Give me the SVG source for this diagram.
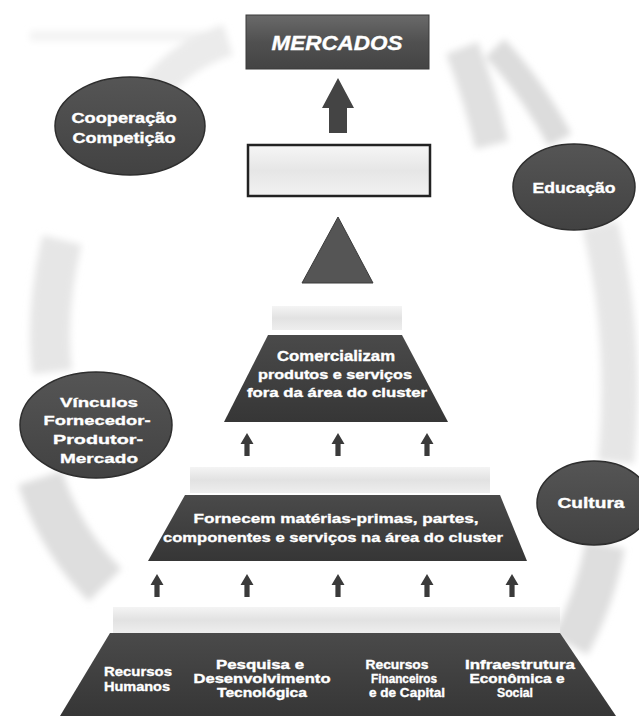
<svg xmlns="http://www.w3.org/2000/svg" xmlns:xlink="http://www.w3.org/1999/xlink" width="639" height="716" viewBox="0 0 639 716">
<defs>
<style>
.lbl{font-family:"Liberation Sans","DejaVu Sans",Arial,sans-serif;font-weight:bold;fill:#ffffff;text-anchor:middle;stroke:#ffffff;stroke-width:0.35}
.dark{fill:url(#darkGrad)}
.ell{fill:url(#ellGrad);stroke:#2e2e2e;stroke-width:1.5}
.band{fill:url(#bandGrad)}
.sw{fill:none;stroke:#e2e2e2;stroke-linecap:butt}
.arr{fill:#3a3a3a}
</style>
<filter id="soft" x="-20%" y="-20%" width="140%" height="140%">
<feGaussianBlur stdDeviation="3.5"/>
</filter>
<linearGradient id="darkGrad" x1="0" y1="0" x2="0" y2="1">
<stop offset="0" stop-color="#4a4a4a"/>
<stop offset="1" stop-color="#363636"/>
</linearGradient>
<linearGradient id="ellGrad" x1="0" y1="0" x2="0" y2="1">
<stop offset="0" stop-color="#555555"/>
<stop offset="1" stop-color="#424242"/>
</linearGradient>
<linearGradient id="mercGrad" x1="0" y1="0" x2="0" y2="1">
<stop offset="0" stop-color="#6a6a6a"/>
<stop offset="0.5" stop-color="#505050"/>
<stop offset="1" stop-color="#444444"/>
</linearGradient>
<linearGradient id="bandGrad" x1="0" y1="0" x2="0" y2="1">
<stop offset="0" stop-color="#f4f4f4"/>
<stop offset="0.5" stop-color="#e2e2e2"/>
<stop offset="1" stop-color="#eeeeee"/>
</linearGradient>
<linearGradient id="boxGrad" x1="0" y1="0" x2="0" y2="1">
<stop offset="0" stop-color="#f6f6f6"/>
<stop offset="0.5" stop-color="#e6e6e6"/>
<stop offset="1" stop-color="#f2f2f2"/>
</linearGradient>
<path id="sa" d="M0,0 L6.5,11 L2.6,11 L2.6,23 L-2.6,23 L-2.6,11 L-6.5,11 Z"/>
</defs>
<rect x="0" y="0" width="639" height="716" fill="#ffffff"/>

<g id="cycle" filter="url(#soft)">
<path class="sw" d="M30,36 L205,36" stroke-width="10" style="stroke:#f3f3f3"/>
<path class="sw" d="M150,95 Q180,55 228,40" stroke-width="32" style="stroke:#ebebeb"/>
<path class="sw" d="M462,48 Q480,95 492,145" stroke-width="34" style="stroke:#e0e0e0"/>
<path class="sw" d="M495,48 Q530,85 560,140" stroke-width="26" style="stroke:#dcdcdc"/>
<path class="sw" d="M600,225 Q628,340 616,462" stroke-width="36" style="stroke:#e6e6e6"/>
<path class="sw" d="M605,545 Q595,600 570,645" stroke-width="40" style="stroke:#dedede"/>
<path class="sw" d="M62,240 Q45,310 52,372" stroke-width="40" style="stroke:#e6e6e6"/>
<path class="sw" d="M40,478 Q60,540 105,585" stroke-width="46" style="stroke:#dedede"/>
</g>

<g id="connectors">
<path class="arr" d="M338,78 L354,108 L347,108 L347,133 L329,133 L329,108 L322,108 Z" style="fill:#444"/>
<use href="#sa" class="arr" x="247" y="433"/>
<use href="#sa" class="arr" x="338" y="433"/>
<use href="#sa" class="arr" x="427" y="433"/>
<use href="#sa" class="arr" x="157" y="574"/>
<use href="#sa" class="arr" x="247" y="574"/>
<use href="#sa" class="arr" x="338" y="574"/>
<use href="#sa" class="arr" x="427" y="574"/>
<use href="#sa" class="arr" x="512" y="574"/>
</g>

<g id="mercados">
<rect x="246" y="15" width="183" height="54" fill="url(#mercGrad)" stroke="#3a3a3a" stroke-width="1"/>
<text class="lbl" x="337" y="50" font-size="20" font-style="italic" textLength="131" lengthAdjust="spacingAndGlyphs">MERCADOS</text>
</g>

<g id="box">
<rect x="248" y="145" width="182" height="51" fill="url(#boxGrad)" stroke="#222" stroke-width="2.5"/>
</g>

<g id="apex">
<polygon points="338,217 373,283 302,283" fill="#555555" stroke="#3a3a3a" stroke-width="1"/>
</g>

<g id="band1"><rect class="band" x="272" y="306" width="130" height="24"/></g>

<g id="comercializam">
<polygon class="dark" points="268,335 402,335 448,422 224,422"/>
<text class="lbl" x="336" y="361" font-size="14" textLength="118" lengthAdjust="spacingAndGlyphs">Comercializam</text>
<text class="lbl" x="335" y="379" font-size="12" textLength="154" lengthAdjust="spacingAndGlyphs">produtos e serviços</text>
<text class="lbl" x="337" y="397" font-size="12" textLength="180" lengthAdjust="spacingAndGlyphs">fora da área do cluster</text>
</g>

<g id="band2"><rect class="band" x="190" y="467" width="300" height="26"/></g>

<g id="fornecem">
<polygon class="dark" points="185,495 500,495 527,561 148,561"/>
<text class="lbl" x="336" y="523" font-size="13.5" textLength="285" lengthAdjust="spacingAndGlyphs">Fornecem matérias-primas, partes,</text>
<text class="lbl" x="333" y="542" font-size="13.5" textLength="340" lengthAdjust="spacingAndGlyphs">componentes e serviços na área do cluster</text>
</g>

<g id="band3"><rect class="band" x="113" y="607" width="447" height="26"/></g>

<g id="base">
<polygon class="dark" points="110,633 560,633 616,716 60,716"/>
<text class="lbl" x="138" y="676" font-size="12.5" textLength="68" lengthAdjust="spacingAndGlyphs">Recursos</text>
<text class="lbl" x="137" y="691" font-size="12.5" textLength="66" lengthAdjust="spacingAndGlyphs">Humanos</text>
<text class="lbl" x="260" y="669" font-size="12" textLength="88" lengthAdjust="spacingAndGlyphs">Pesquisa e</text>
<text class="lbl" x="262" y="683" font-size="12" textLength="137" lengthAdjust="spacingAndGlyphs">Desenvolvimento</text>
<text class="lbl" x="262" y="697" font-size="12" textLength="90" lengthAdjust="spacingAndGlyphs">Tecnológica</text>
<text class="lbl" x="397" y="669" font-size="12" textLength="63" lengthAdjust="spacingAndGlyphs">Recursos</text>
<text class="lbl" x="404" y="683" font-size="12" textLength="66" lengthAdjust="spacingAndGlyphs">Financeiros</text>
<text class="lbl" x="407" y="697" font-size="12" textLength="76" lengthAdjust="spacingAndGlyphs">e de Capital</text>
<text class="lbl" x="520" y="669" font-size="12" textLength="110" lengthAdjust="spacingAndGlyphs">Infraestrutura</text>
<text class="lbl" x="517" y="683" font-size="12" textLength="95" lengthAdjust="spacingAndGlyphs">Econômica e</text>
<text class="lbl" x="515" y="697" font-size="12" textLength="36" lengthAdjust="spacingAndGlyphs">Social</text>
</g>

<g id="cooperacao">
<ellipse class="ell" cx="130" cy="126" rx="75" ry="49"/>
<text class="lbl" x="124" y="123" font-size="14" textLength="105" lengthAdjust="spacingAndGlyphs">Cooperação</text>
<text class="lbl" x="124" y="143" font-size="14" textLength="103" lengthAdjust="spacingAndGlyphs">Competição</text>
</g>

<g id="educacao">
<ellipse class="ell" cx="574" cy="187" rx="61" ry="43"/>
<text class="lbl" x="574" y="193" font-size="14" textLength="83" lengthAdjust="spacingAndGlyphs">Educação</text>
</g>

<g id="vinculos">
<ellipse class="ell" cx="96" cy="425" rx="76" ry="53"/>
<text class="lbl" x="99" y="407" font-size="13.5" textLength="78" lengthAdjust="spacingAndGlyphs">Vínculos</text>
<text class="lbl" x="97" y="425" font-size="13.5" textLength="107" lengthAdjust="spacingAndGlyphs">Fornecedor-</text>
<text class="lbl" x="98" y="444" font-size="13.5" textLength="90" lengthAdjust="spacingAndGlyphs">Produtor-</text>
<text class="lbl" x="99" y="463" font-size="13.5" textLength="78" lengthAdjust="spacingAndGlyphs">Mercado</text>
</g>

<g id="cultura">
<ellipse class="ell" cx="594" cy="503" rx="57" ry="42"/>
<text class="lbl" x="591" y="508" font-size="14" textLength="67" lengthAdjust="spacingAndGlyphs">Cultura</text>
</g>
</svg>
